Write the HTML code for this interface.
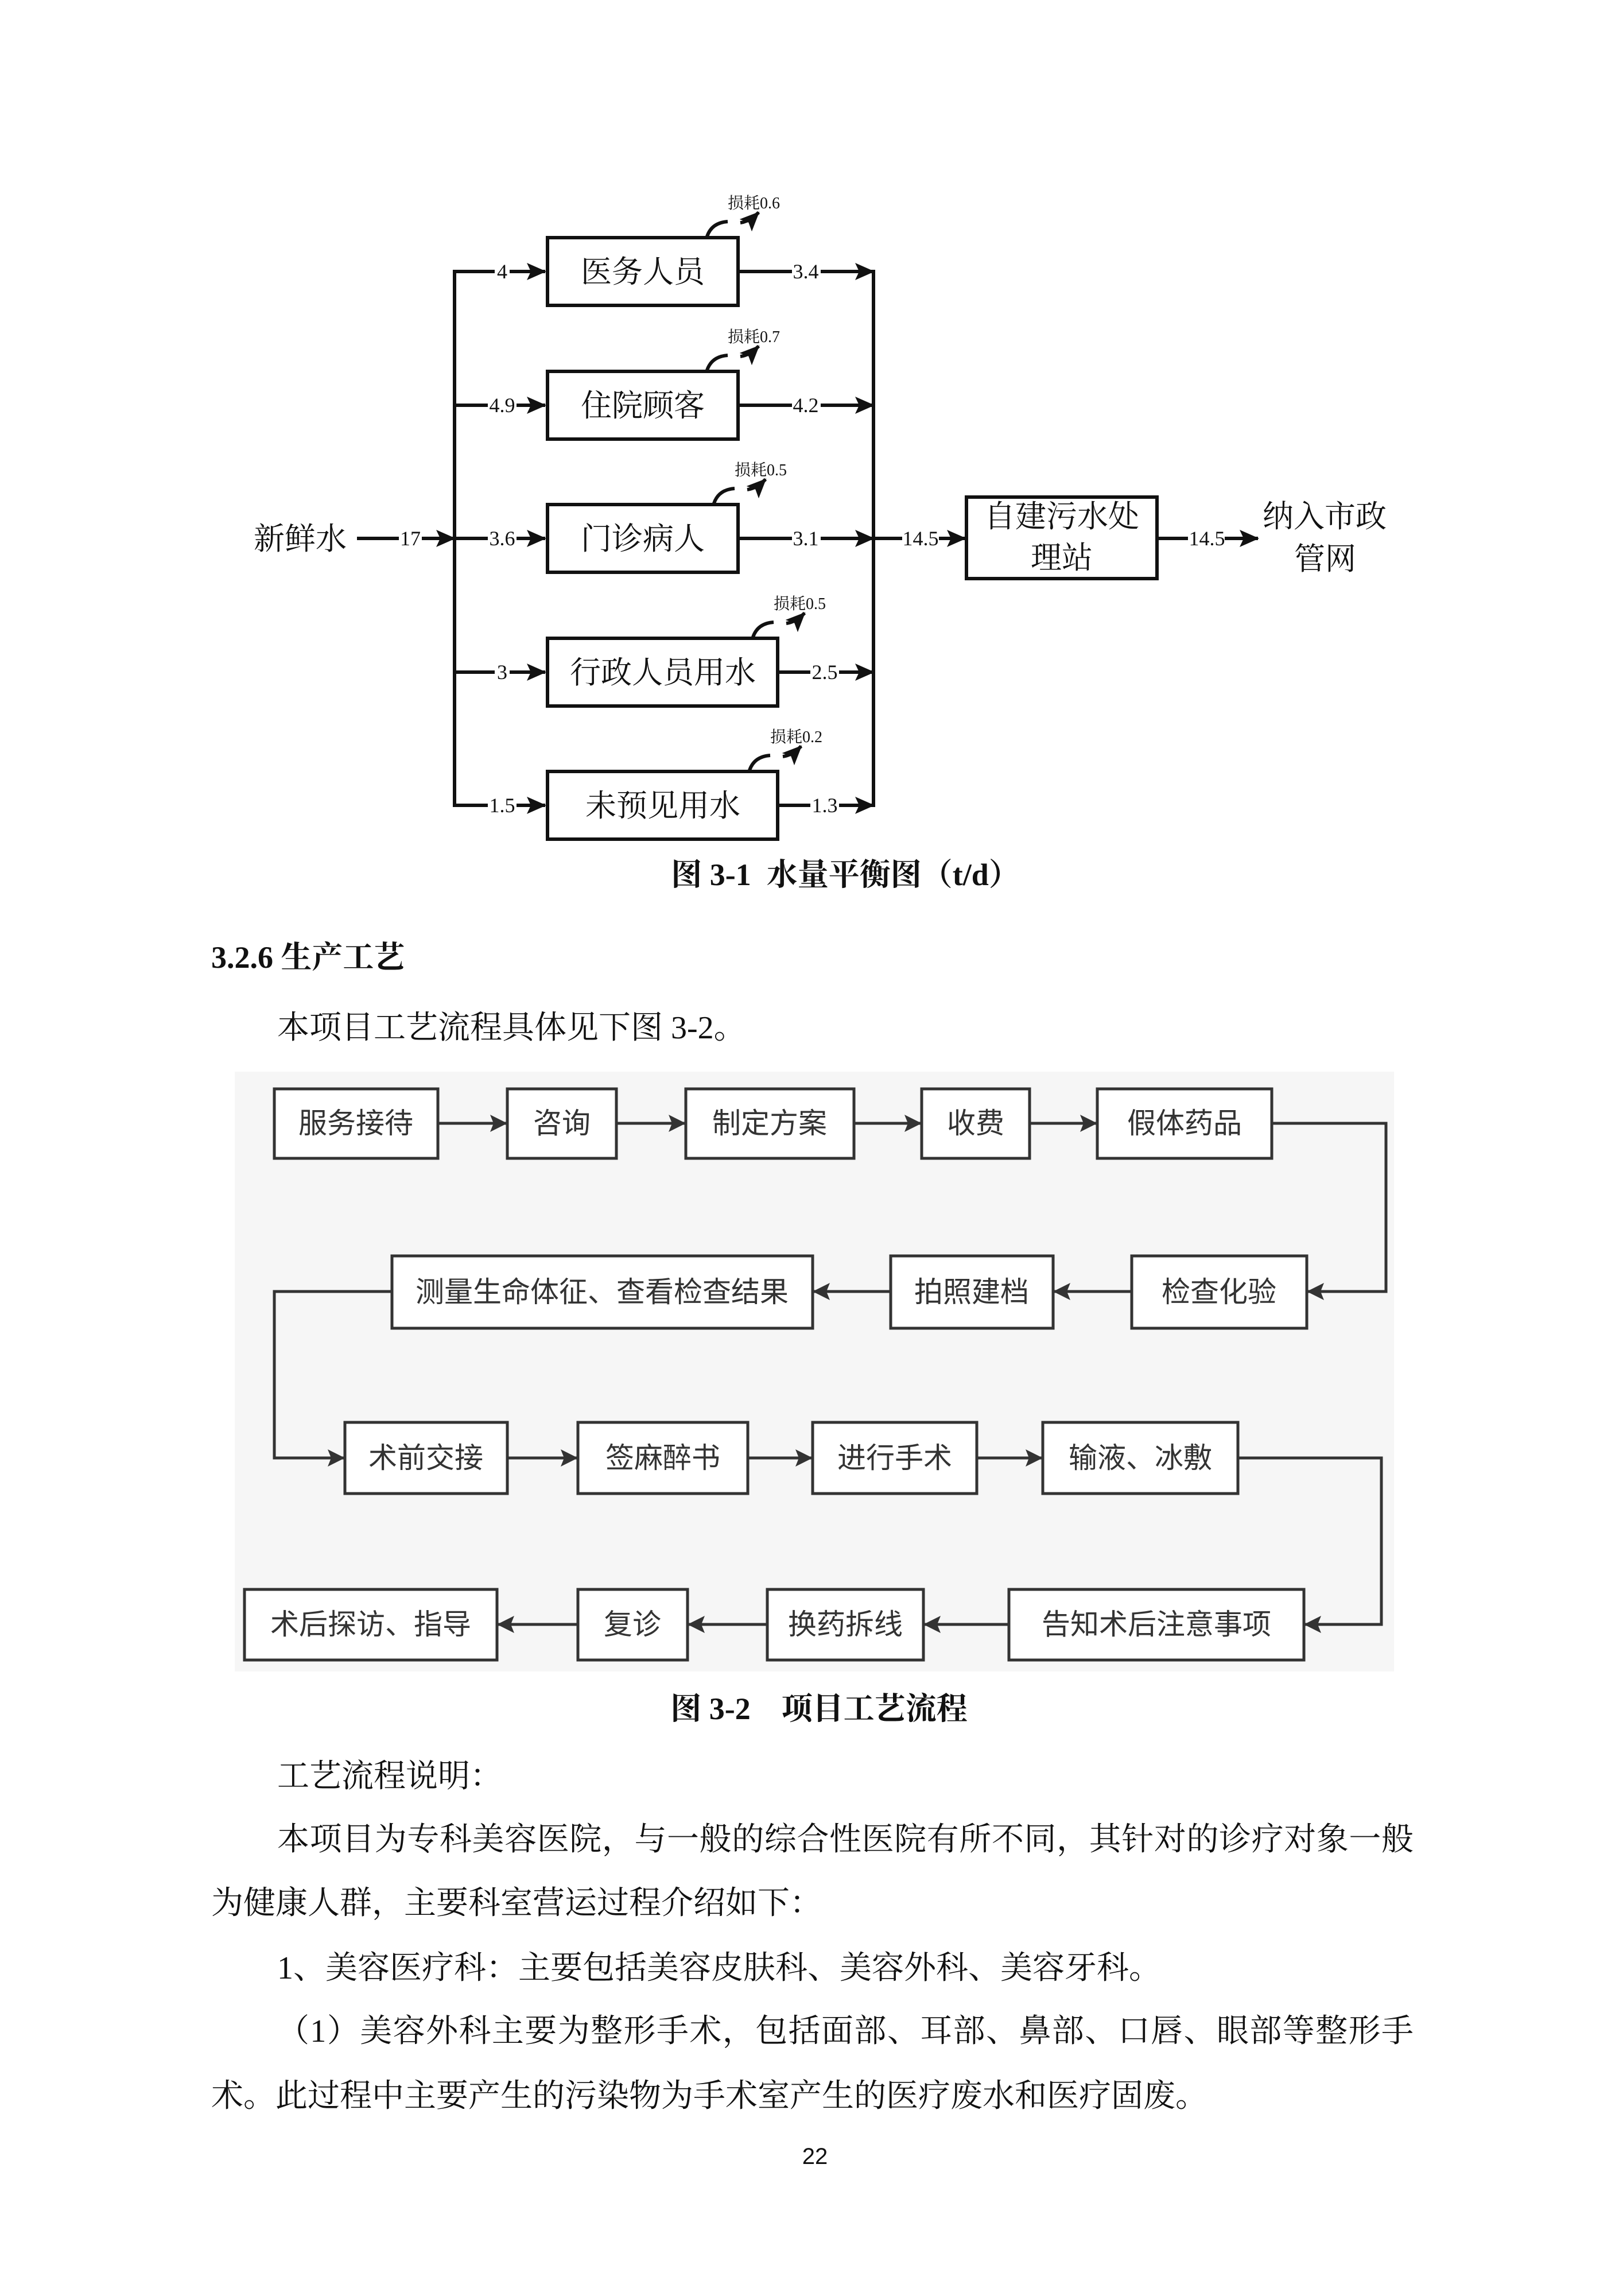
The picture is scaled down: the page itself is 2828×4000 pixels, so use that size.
<!DOCTYPE html>
<html><head><meta charset="utf-8"><style>
html,body{margin:0;padding:0;background:#fff;}
svg{display:block;}
.cn{font-family:"Liberation Serif","Noto Serif CJK SC",serif;}
.bx{fill:#fff;stroke:#111;stroke-width:6;}
.ln{stroke:#111;stroke-width:6;fill:none;}
.ln2{stroke:#333;stroke-width:5;fill:none;}
.lbl{font-family:"Liberation Serif",serif;font-size:36px;fill:#111;}
.loss{font-family:"Liberation Serif","Noto Serif CJK SC",serif;font-size:28px;fill:#111;}
.bt{font-family:"Liberation Serif","Noto Serif CJK SC",serif;font-size:54px;fill:#111;}
.ft{font-family:"Liberation Sans","Noto Sans CJK SC",sans-serif;font-size:50px;fill:#333;}
.body{font-family:"Liberation Serif","Noto Serif CJK SC",serif;font-size:56px;fill:#111;}
</style></head><body>
<svg width="2828" height="4000" viewBox="0 0 2828 4000" xmlns="http://www.w3.org/2000/svg">
<defs>
<marker id="ab" markerWidth="34" markerHeight="30" refX="32" refY="15" orient="auto" markerUnits="userSpaceOnUse" viewBox="0 0 34 30"><path d="M0,0 L34,15 L0,30 L7,15 z" fill="#111"/></marker>
<marker id="ag" markerWidth="30" markerHeight="30" refX="28" refY="15" orient="auto" markerUnits="userSpaceOnUse" viewBox="0 0 30 30"><path d="M0,0 L30,15 L0,30 L6,15 z" fill="#333"/></marker>
</defs>

<!-- Figure 3-1 -->
<g>
<line class="ln" x1="792" y1="470" x2="792" y2="1406"/>
<line class="ln" x1="1522" y1="470" x2="1522" y2="1406"/>
<g class="ln">
<line x1="792" y1="473" x2="950" y2="473" marker-end="url(#ab)"/>
<line x1="792" y1="706" x2="950" y2="706" marker-end="url(#ab)"/>
<line x1="792" y1="938" x2="950" y2="938" marker-end="url(#ab)"/>
<line x1="792" y1="1171" x2="950" y2="1171" marker-end="url(#ab)"/>
<line x1="792" y1="1403" x2="950" y2="1403" marker-end="url(#ab)"/>
<line x1="1286" y1="473" x2="1522" y2="473" marker-end="url(#ab)"/>
<line x1="1286" y1="706" x2="1522" y2="706" marker-end="url(#ab)"/>
<line x1="1286" y1="938" x2="1522" y2="938" marker-end="url(#ab)"/>
<line x1="1355" y1="1171" x2="1522" y2="1171" marker-end="url(#ab)"/>
<line x1="1355" y1="1403" x2="1522" y2="1403" marker-end="url(#ab)"/>
<line x1="622" y1="938" x2="792" y2="938" marker-end="url(#ab)"/>
<line x1="1522" y1="938" x2="1682" y2="938" marker-end="url(#ab)"/>
<line x1="2016" y1="938" x2="2192" y2="938" marker-end="url(#ab)"/>
</g>
<rect class="bx" x="954" y="414" width="332" height="118"/>
<rect class="bx" x="954" y="647" width="332" height="118"/>
<rect class="bx" x="954" y="879" width="332" height="118"/>
<rect class="bx" x="954" y="1112" width="401" height="118"/>
<rect class="bx" x="954" y="1344" width="401" height="118"/>
<rect class="bx" x="1684" y="866" width="332" height="142"/>
<text class="bt" x="1120" y="492" text-anchor="middle">医务人员</text>
<text class="bt" x="1120" y="725" text-anchor="middle">住院顾客</text>
<text class="bt" x="1120" y="957" text-anchor="middle">门诊病人</text>
<text class="bt" x="1155" y="1190" text-anchor="middle">行政人员用水</text>
<text class="bt" x="1155" y="1422" text-anchor="middle">未预见用水</text>
<text class="bt" x="1850" y="918" text-anchor="middle">自建污水处</text>
<text class="bt" x="1850" y="990" text-anchor="middle">理站</text>
<text class="bt" x="442" y="957">新鲜水</text>
<text class="bt" x="2200" y="918">纳入市政</text>
<text class="bt" x="2255" y="992">管网</text>
<g class="lbl" text-anchor="middle">
<rect x="862" y="455" width="26" height="36" fill="#fff"/><text x="875" y="485">4</text>
<rect x="850" y="688" width="50" height="36" fill="#fff"/><text x="875" y="718">4.9</text>
<rect x="850" y="920" width="50" height="36" fill="#fff"/><text x="875" y="950">3.6</text>
<rect x="862" y="1153" width="26" height="36" fill="#fff"/><text x="875" y="1183">3</text>
<rect x="850" y="1385" width="50" height="36" fill="#fff"/><text x="875" y="1415">1.5</text>
<rect x="1380" y="455" width="50" height="36" fill="#fff"/><text x="1404" y="485">3.4</text>
<rect x="1380" y="688" width="50" height="36" fill="#fff"/><text x="1404" y="718">4.2</text>
<rect x="1380" y="920" width="50" height="36" fill="#fff"/><text x="1404" y="950">3.1</text>
<rect x="1412" y="1153" width="50" height="36" fill="#fff"/><text x="1437" y="1183">2.5</text>
<rect x="1412" y="1385" width="50" height="36" fill="#fff"/><text x="1437" y="1415">1.3</text>
<rect x="695" y="920" width="40" height="36" fill="#fff"/><text x="715" y="950">17</text>
<rect x="1572" y="920" width="64" height="36" fill="#fff"/><text x="1604" y="950">14.5</text>
<rect x="2070" y="920" width="64" height="36" fill="#fff"/><text x="2103" y="950">14.5</text>
</g>
<g>
<path class="ln" d="M1232,412 Q1240,388 1268,386 M1290,388 Q1306,386 1322,370" marker-end="url(#ab)"/>
<text class="loss" x="1268" y="363">损耗0.6</text>
<path class="ln" d="M1232,645 Q1240,621 1268,619 M1290,621 Q1306,619 1322,603" marker-end="url(#ab)"/>
<text class="loss" x="1268" y="596">损耗0.7</text>
<path class="ln" d="M1244,877 Q1252,853 1280,851 M1302,853 Q1318,851 1334,835" marker-end="url(#ab)"/>
<text class="loss" x="1280" y="828">损耗0.5</text>
<path class="ln" d="M1312,1110 Q1320,1086 1348,1084 M1370,1086 Q1386,1084 1402,1068" marker-end="url(#ab)"/>
<text class="loss" x="1348" y="1061">损耗0.5</text>
<path class="ln" d="M1306,1342 Q1314,1318 1342,1316 M1364,1318 Q1380,1316 1396,1300" marker-end="url(#ab)"/>
<text class="loss" x="1342" y="1293">损耗0.2</text>
</g>
<text class="cn" x="1473" y="1542" text-anchor="middle" font-size="54" font-weight="bold" fill="#111" xml:space="preserve">图 3-1  水量平衡图（t/d）</text>
</g>

<text class="cn" x="368" y="1686" font-size="54" font-weight="bold" fill="#111">3.2.6 生产工艺</text>
<text class="body" x="483" y="1809">本项目工艺流程具体见下图 3-2。</text>

<!-- Figure 3-2 -->
<g transform="translate(-3,-18)">
<rect x="412" y="1885" width="2020" height="1045" fill="#f6f6f6"/>
<g class="ln2">
<line x1="766" y1="1975" x2="885" y2="1975" marker-end="url(#ag)"/>
<line x1="1077" y1="1975" x2="1196" y2="1975" marker-end="url(#ag)"/>
<line x1="1491" y1="1975" x2="1607" y2="1975" marker-end="url(#ag)"/>
<line x1="1797" y1="1975" x2="1913" y2="1975" marker-end="url(#ag)"/>
<polyline points="2219,1975 2418,1975 2418,2268 2282,2268" marker-end="url(#ag)"/>
<line x1="1975" y1="2268" x2="1840" y2="2268" marker-end="url(#ag)"/>
<line x1="1555" y1="2268" x2="1421" y2="2268" marker-end="url(#ag)"/>
<polyline points="686,2268 481,2268 481,2558 602,2558" marker-end="url(#ag)"/>
<line x1="887" y1="2558" x2="1008" y2="2558" marker-end="url(#ag)"/>
<line x1="1306" y1="2558" x2="1417" y2="2558" marker-end="url(#ag)"/>
<line x1="1705" y1="2558" x2="1818" y2="2558" marker-end="url(#ag)"/>
<polyline points="2160,2558 2410,2558 2410,2848 2277,2848" marker-end="url(#ag)"/>
<line x1="1761" y1="2848" x2="1614" y2="2848" marker-end="url(#ag)"/>
<line x1="1340" y1="2848" x2="1203" y2="2848" marker-end="url(#ag)"/>
<line x1="1010" y1="2848" x2="871" y2="2848" marker-end="url(#ag)"/>
</g>
<g fill="#fff" stroke="#333" stroke-width="5">
<rect x="481" y="1915" width="285" height="121"/>
<rect x="887" y="1915" width="190" height="121"/>
<rect x="1198" y="1915" width="293" height="121"/>
<rect x="1609" y="1915" width="188" height="121"/>
<rect x="1915" y="1915" width="304" height="121"/>
<rect x="1975" y="2206" width="305" height="126"/>
<rect x="1555" y="2206" width="283" height="126"/>
<rect x="686" y="2206" width="733" height="126"/>
<rect x="604" y="2496" width="283" height="124"/>
<rect x="1010" y="2496" width="296" height="124"/>
<rect x="1419" y="2496" width="286" height="124"/>
<rect x="1820" y="2496" width="340" height="124"/>
<rect x="1761" y="2787" width="514" height="123"/>
<rect x="1340" y="2787" width="272" height="123"/>
<rect x="1010" y="2787" width="191" height="123"/>
<rect x="429" y="2787" width="440" height="123"/>
</g>
<g class="ft" text-anchor="middle">
<text x="623" y="1992">服务接待</text>
<text x="982" y="1992">咨询</text>
<text x="1344" y="1992">制定方案</text>
<text x="1703" y="1992">收费</text>
<text x="2067" y="1992">假体药品</text>
<text x="2127" y="2286">检查化验</text>
<text x="1696" y="2286">拍照建档</text>
<text x="1052" y="2286">测量生命体征、查看检查结果</text>
<text x="745" y="2575">术前交接</text>
<text x="1158" y="2575">签麻醉书</text>
<text x="1562" y="2575">进行手术</text>
<text x="1990" y="2575">输液、冰敷</text>
<text x="2018" y="2865">告知术后注意事项</text>
<text x="1476" y="2865">换药拆线</text>
<text x="1105" y="2865">复诊</text>
<text x="649" y="2865">术后探访、指导</text>
</g>
</g>
<text class="cn" x="1427" y="2995" text-anchor="middle" font-size="54" font-weight="bold" fill="#111" xml:space="preserve">图 3-2    项目工艺流程</text>

<g class="body" transform="translate(0,-20)">
<text x="483" y="3133">工艺流程说明：</text>
<text x="483" y="3243" textLength="1980" lengthAdjust="spacing">本项目为专科美容医院，与一般的综合性医院有所不同，其针对的诊疗对象一般</text>
<text x="368" y="3354">为健康人群，主要科室营运过程介绍如下：</text>
<text x="483" y="3467">1、美容医疗科：主要包括美容皮肤科、美容外科、美容牙科。</text>
<text x="483" y="3577" textLength="1980" lengthAdjust="spacing">（1）美容外科主要为整形手术，包括面部、耳部、鼻部、口唇、眼部等整形手</text>
<text x="368" y="3690">术。此过程中主要产生的污染物为手术室产生的医疗废水和医疗固废。</text>
</g>
<text x="1420" y="3770" text-anchor="middle" font-family="Liberation Sans, sans-serif" font-size="40" fill="#111">22</text>
</svg>
</body></html>
